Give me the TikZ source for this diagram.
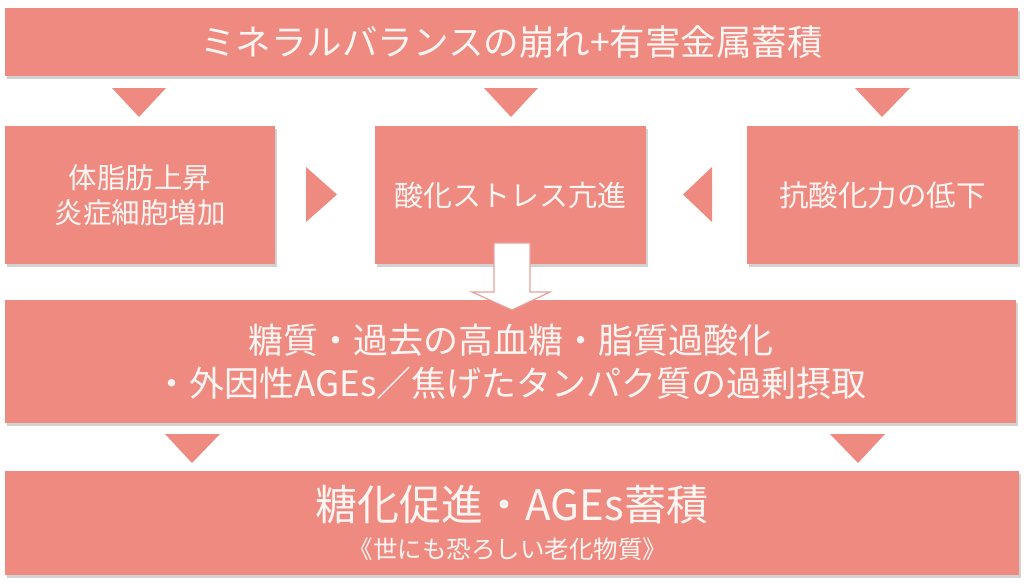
\documentclass[tikz,border=0pt]{standalone}
\usepackage{fontspec}
\setmainfont{Noto Sans CJK JP}
\usetikzlibrary{shadows}
\definecolor{salmon}{RGB}{239,138,128}
\definecolor{txt}{RGB}{255,246,244}
\definecolor{arrowedge}{RGB}{232,160,158}
\tikzset{
  box/.style={rectangle, fill=salmon, inner sep=0pt, outer sep=0pt, text=txt,
    drop shadow={shadow xshift=2pt, shadow yshift=-3pt, opacity=0.35, fill=gray}},
  tri/.style={fill=salmon},
}
\begin{document}
\begin{tikzpicture}[x=1pt,y=-1pt]
\useasboundingbox (0,0) rectangle (1024,586);
\fill[white] (0,0) rectangle (1024,586);

\node[box, minimum width=1013pt, minimum height=68pt, font=\fontsize{35.5}{40}\selectfont] (top) at (511.5,42)
  {ミネラルバランスの崩れ+有害金属蓄積};

\node[box, minimum width=270pt, minimum height=138pt, align=center, font=\fontsize{28.5}{35}\selectfont] (left) at (140,195)
  {体脂肪上昇\\炎症細胞増加};
\node[box, minimum width=271pt, minimum height=138pt, font=\fontsize{29}{35}\selectfont] (mid) at (510.5,195)
  {酸化ストレス亢進};
\node[box, minimum width=271pt, minimum height=138pt, font=\fontsize{29.5}{35}\selectfont] (right) at (882.5,195)
  {抗酸化力の低下};

\node[box, minimum width=1011pt, minimum height=123pt, align=center, font=\fontsize{35}{43}\selectfont] (row3) at (510.5,361.5)
  {糖質・過去の高血糖・脂質過酸化\\・外因性AGEs／焦げたタンパク質の過剰摂取};

\node[box, minimum width=1014pt, minimum height=104pt] (bottom) at (512,523) {};
\node[text=txt, inner sep=0pt, font=\fontsize{42}{46}\selectfont] (bt1) at (512,505) {糖化促進・AGEs蓄積};
\node[text=txt, inner sep=0pt, font=\fontsize{24.5}{28}\selectfont] (bt2) at (508,549) {《世にも恐ろしい老化物質》};

% down triangles from top
\fill[tri] (112,88) -- (166,88) -- (139,117) -- cycle;
\fill[tri] (484,88) -- (538,88) -- (511,117) -- cycle;
\fill[tri] (855,88) -- (910,88) -- (882,117) -- cycle;
% side triangles
\fill[tri] (306,167) -- (306,222) -- (337,194.5) -- cycle;
\fill[tri] (712,167) -- (712,222) -- (683,194.5) -- cycle;
% lower triangles
\fill[tri] (165,434) -- (220,434) -- (192,463) -- cycle;
\fill[tri] (830,434) -- (885,434) -- (858,463) -- cycle;

% hollow arrow
\draw[fill=white, draw=arrowedge, line width=1.2pt, line join=miter]
  (494,243) -- (530,243) -- (530,292) -- (550,292) -- (512,310) -- (472,292) -- (494,292) -- cycle;
\end{tikzpicture}
\end{document}
